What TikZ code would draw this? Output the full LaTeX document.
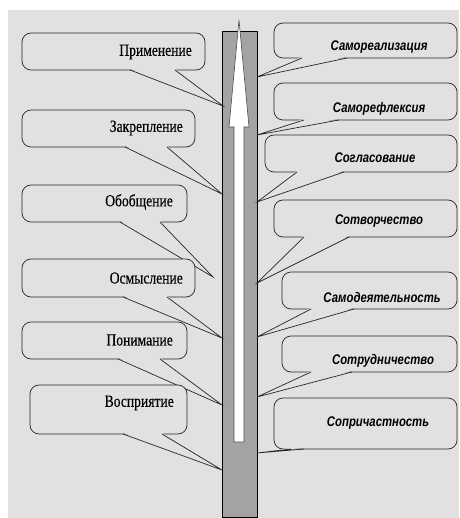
\documentclass[tikz,border=0pt]{standalone}
\usepackage{fontspec}
\setmainfont{Liberation Serif}
\newfontfamily\lfont[FakeBold=0.4]{Liberation Serif}
\newfontfamily\rfont{Liberation Sans}
\usetikzlibrary{calc}
\definecolor{bg}{HTML}{E1E1E1}
\definecolor{barc}{HTML}{A3A3A3}
\newcommand\mybox[5]{\node[box, minimum width={#4-#2}, minimum height={#5-#3}] (#1) at ({(#2+#4)/2},{(#3+#5)/2}) {};}
\newcommand\myptr[4]{%
  \fill[bg] (#1,#3-1.3) -- (#4) -- (#2,#3-1.3) -- cycle;
  \draw[ptr] (#1,#3) -- (#4) -- (#2,#3);}
\begin{document}
\begin{tikzpicture}[x=1pt,y=-1pt,
  box/.style={draw=black!85, fill=bg, rounded corners=9pt, line width=0.7pt, inner sep=0},
  ltext/.style={font=\lfont\fontsize{17}{17}\selectfont, inner sep=0},
  rtext/.style={font=\rfont\bfseries\itshape\fontsize{14}{14}\selectfont, inner sep=0},
  ptr/.style={draw=black!85, line width=0.7pt}]
\useasboundingbox (0,0) rectangle (459,518);
\fill[white] (0,0) rectangle (459,518);
\fill[bg] (8,10) rectangle (459,518);
% bar and arrow
\node[draw=black, fill=barc, line width=0.8pt, minimum width=35, minimum height=486, inner sep=0, anchor=north west] (bar) at (222,31) {};
\draw[fill=white, draw=black!70, line width=0.6pt] (234,442) -- (234,127) -- (229,127) -- (239,20) -- (249,127) -- (244,127) -- (244,442) -- cycle;
% tips
\coordinate (p1) at (223,106);
\coordinate (p2) at (222,194);
\coordinate (p3) at (213,277);
\coordinate (p4) at (222,338);
\coordinate (p5) at (222,405);
\coordinate (p6) at (222,470);
\coordinate (q1) at (257,77);
\coordinate (q2) at (257,135);
\coordinate (q3) at (257,202);
\coordinate (q4) at (257,283);
\coordinate (q5) at (257,337);
\coordinate (q6) at (257,397);
\coordinate (q7) at (257,453);
% left callouts
\mybox{L1}{22}{33}{205}{70}   \myptr{130}{175}{70}{p1}
\node[ltext, anchor=east] (tL1) at (192,52) {\scalebox{0.8}[1]{Применение}};
\mybox{L2}{22}{110}{195}{147} \myptr{125}{167}{147}{p2}
\node[ltext, anchor=east] (tL2) at (183,128) {\scalebox{0.8}[1]{Закрепление}};
\mybox{L3}{22}{185}{187}{222} \myptr{120}{160}{222}{p3}
\node[ltext, anchor=east] (tL3) at (173,202) {\scalebox{0.8}[1]{Обобщение}};
\mybox{L4}{22}{259}{195}{297} \myptr{123}{167}{297}{p4}
\node[ltext, anchor=east] (tL4) at (183,278) {\scalebox{0.8}[1]{Осмысление}};
\mybox{L5}{22}{322}{187}{359} \myptr{118}{160}{359}{p5}
\node[ltext, anchor=east] (tL5) at (173,340) {\scalebox{0.8}[1]{Понимание}};
\mybox{L6}{30}{385}{187}{434} \myptr{123}{162}{434}{p6}
\node[ltext, anchor=east] (tL6) at (174,403) {\scalebox{0.8}[1]{Восприятие}};
% right callouts
\mybox{R1}{274}{23}{457}{58}   \myptr{302}{347}{58}{q1}
\node[rtext] (tR1) at (379,47) {\scalebox{0.81}[1]{Самореализация}};
\mybox{R2}{274}{83}{457}{120}  \myptr{304}{339}{120}{q2}
\node[rtext] (tR2) at (379,109) {\scalebox{0.81}[1]{Саморефлексия}};
\mybox{R3}{265}{135}{457}{172} \myptr{297}{344}{172}{q3}
\node[rtext] (tR3) at (375,158) {\scalebox{0.81}[1]{Согласование}};
\mybox{R4}{274}{200}{457}{237} \myptr{304}{349}{237}{q4}
\node[rtext] (tR4) at (379,221) {\scalebox{0.81}[1]{Сотворчество}};
\mybox{R5}{282}{272}{457}{309} \myptr{311}{354}{309}{q5}
\node[rtext] (tR5) at (382,297) {\scalebox{0.81}[1]{Самодеятельность}};
\mybox{R6}{282}{336}{457}{372} \myptr{311}{352}{372}{q6}
\node[rtext] (tR6) at (383,361) {\scalebox{0.81}[1]{Сотрудничество}};
\mybox{R7}{274}{398}{457}{449} \myptr{291}{304}{449}{q7}
\node[rtext] (tR7) at (378,423) {\scalebox{0.81}[1]{Сопричастность}};
\end{tikzpicture}
\end{document}
